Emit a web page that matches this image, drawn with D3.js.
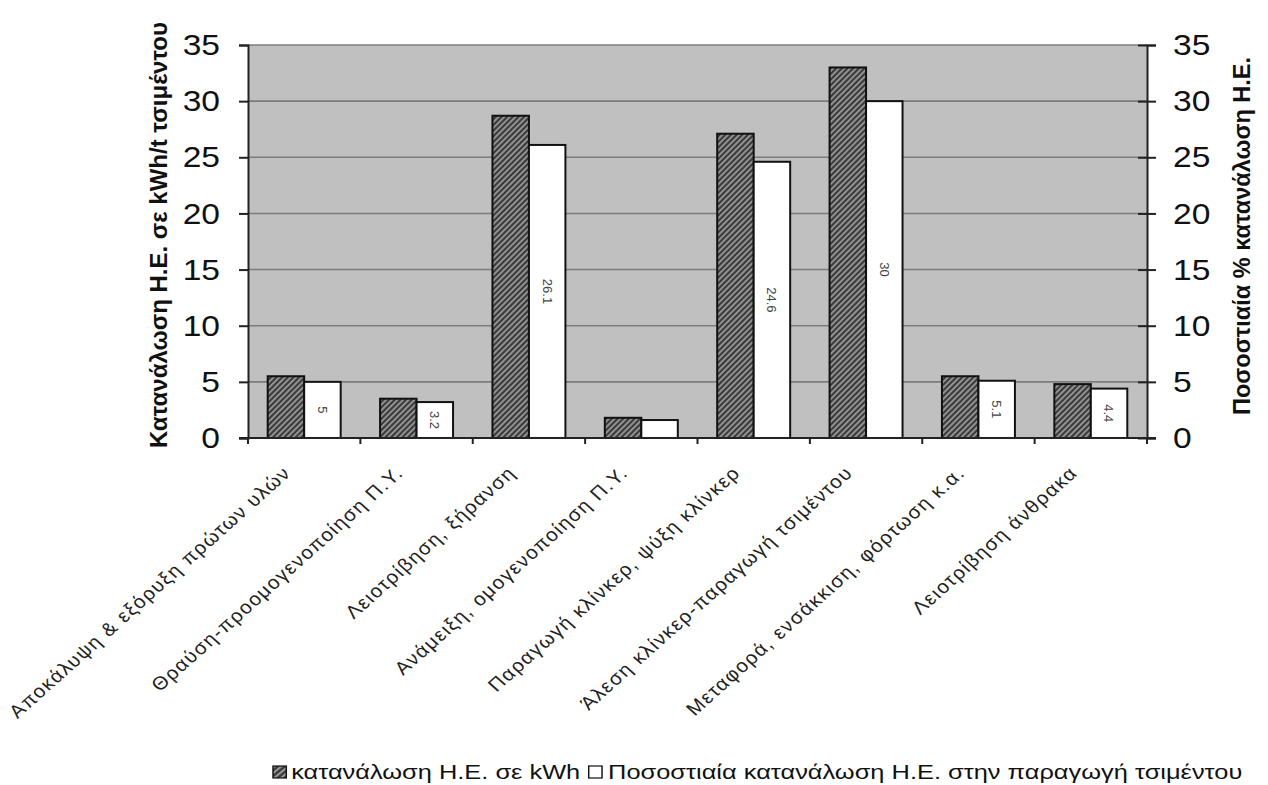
<!DOCTYPE html>
<html>
<head>
<meta charset="utf-8">
<script src="https://cdn.jsdelivr.net/npm/d3@7/dist/d3.min.js"></script>
<style>
  html, body { margin: 0; padding: 0; background: #fff; }
  svg { display: block; font-family: "Liberation Sans", Arial, sans-serif; }
</style>
</head>
<body>
<svg id="chart" width="1268" height="785"></svg>
<script>
// Cement production stages
const categories = [
  "Αποκάλυψη & εξόρυξη πρώτων υλών",
  "Θραύση-προομογενοποίηση Π.Υ.",
  "Λειοτρίβηση, ξήρανση",
  "Ανάμειξη, ομογενοποίηση Π.Υ.",
  "Παραγωγή κλίνκερ, ψύξη κλίνκερ",
  "Άλεση κλίνκερ-παραγωγή τσιμέντου",
  "Μεταφορά, ενσάκκιση, φόρτωση κ.α.",
  "Λειοτρίβηση άνθρακα"
];
// Electricity use, kWh per tonne of cement
const consumptionKWh = [5.5, 3.5, 28.7, 1.8, 27.1, 33.0, 5.5, 4.8];
// Share of total electricity use, %
const sharePercent = [5, 3.2, 26.1, 1.6, 24.6, 30, 5.1, 4.4];
// Values printed inside the share bars (null = no label)
const shareLabels = ["5", "3.2", "26.1", null, "24.6", "30", "5.1", "4.4"];
const seriesNames = ["κατανάλωση Η.Ε. σε kWh", "Ποσοστιαία κατανάλωση Η.Ε. στην παραγωγή τσιμέντου"];
const yTicks = [0, 5, 10, 15, 20, 25, 30, 35];
const leftTitle = "Κατανάλωση Η.Ε. σε kWh/t τσιμέντου";
const rightTitle = "Ποσοστιαία % κατανάλωση Η.Ε.";

const svg = d3.select("#chart");
const plot = { left: 248, right: 1147, top: 45, bottom: 438 };
const stretch = 1.12; // wide glyph proportions used for the printed text

const x = d3.scaleBand().domain(categories).range([plot.left, plot.right]).padding(0);
const xs = d3.scaleBand().domain([0, 1]).range([0, x.bandwidth()]).paddingOuter(0.54).paddingInner(0);
const yL = d3.scaleLinear().domain([0, 35]).range([plot.bottom, plot.top]);
const yR = d3.scaleLinear().domain([0, 35]).range([plot.bottom, plot.top]);

// diagonal hatch for the kWh series
const defs = svg.append("defs");
const pat = defs.append("pattern")
  .attr("id", "hatch").attr("patternUnits", "userSpaceOnUse")
  .attr("width", 4).attr("height", 4)
  .attr("patternTransform", "rotate(45)");
pat.append("rect").attr("width", 4).attr("height", 4).attr("fill", "#3a3a3a");
pat.append("rect").attr("x", 0).attr("width", 1.8).attr("height", 4).attr("fill", "#9a9a9a");

// plot background
svg.append("rect")
  .attr("x", plot.left).attr("y", plot.top)
  .attr("width", plot.right - plot.left).attr("height", plot.bottom - plot.top)
  .attr("fill", "#c0c0c0");

// gridlines
svg.append("g").selectAll("line").data(yTicks.filter(d => d > 0)).join("line")
  .attr("x1", plot.left).attr("x2", plot.right)
  .attr("y1", d => yL(d)).attr("y2", d => yL(d))
  .attr("stroke", "#7c7c7c").attr("stroke-width", 1.6);

// bars
const groups = svg.append("g").selectAll("g").data(categories).join("g")
  .attr("transform", d => `translate(${x(d)},0)`);

groups.append("rect")
  .attr("x", xs(0)).attr("width", xs.bandwidth())
  .attr("y", (d, i) => yL(consumptionKWh[i]))
  .attr("height", (d, i) => yL(0) - yL(consumptionKWh[i]))
  .attr("fill", "url(#hatch)").attr("stroke", "#111").attr("stroke-width", 2);

groups.append("rect")
  .attr("x", xs(1)).attr("width", xs.bandwidth())
  .attr("y", (d, i) => yR(sharePercent[i]))
  .attr("height", (d, i) => yR(0) - yR(sharePercent[i]))
  .attr("fill", "#fff").attr("stroke", "#111").attr("stroke-width", 2);

groups.filter((d, i) => shareLabels[i] !== null).append("text")
  .attr("transform", d => {
    const i = categories.indexOf(d);
    const cx = xs(1) + xs.bandwidth() / 2;
    const cy = (yR(sharePercent[i]) + yR(0)) / 2;
    return `translate(${cx},${cy}) rotate(90)`;
  })
  .attr("text-anchor", "middle").attr("dy", "0.35em")
  .attr("font-size", 13).attr("fill", "#444")
  .text(d => shareLabels[categories.indexOf(d)]);

// left axis
const leftAxis = svg.append("g")
  .attr("transform", `translate(${plot.left},0)`)
  .call(d3.axisLeft(yL).tickValues(yTicks).tickSize(9).tickPadding(0));
leftAxis.selectAll("text")
  .attr("x", null)
  .attr("transform", `translate(-28,0) scale(${stretch},1)`)
  .attr("font-size", 30).attr("fill", "#111")
  .attr("font-family", "Liberation Sans, Arial, sans-serif");
leftAxis.selectAll("line, path").attr("stroke", "#222").attr("stroke-width", 2);

// right axis (ticks cross the axis line)
const rightAxis = svg.append("g")
  .attr("transform", `translate(${plot.right},0)`)
  .call(d3.axisRight(yR).tickValues(yTicks).tickSize(9).tickPadding(0));
rightAxis.selectAll(".tick line").attr("x1", -9);
rightAxis.selectAll("text")
  .attr("x", null)
  .attr("transform", `translate(26,0) scale(${stretch},1)`)
  .attr("font-size", 30).attr("fill", "#111")
  .attr("font-family", "Liberation Sans, Arial, sans-serif");
rightAxis.selectAll("line, path").attr("stroke", "#222").attr("stroke-width", 2);

// bottom axis with ticks at category boundaries
const boundaries = categories.map(c => x(c)).concat([plot.right]);
const bottom = svg.append("g");
bottom.append("line")
  .attr("x1", plot.left - 9).attr("x2", plot.right + 9)
  .attr("y1", plot.bottom).attr("y2", plot.bottom)
  .attr("stroke", "#222").attr("stroke-width", 2);
bottom.selectAll("line.tk").data(boundaries).join("line").attr("class", "tk")
  .attr("x1", d => d).attr("x2", d => d)
  .attr("y1", plot.bottom).attr("y2", plot.bottom + 6)
  .attr("stroke", "#222").attr("stroke-width", 2);

// category labels
svg.append("g").selectAll("text").data(categories).join("text")
  .attr("transform", d => `translate(${x(d) + x.bandwidth() / 2 - 12},${plot.bottom + 36}) scale(${stretch},1) rotate(-45)`)
  .attr("text-anchor", "end")
  .attr("font-size", 18.5).attr("letter-spacing", 1.3).attr("fill", "#222")
  .text(d => d);

// axis titles
svg.append("text")
  .attr("transform", `translate(167,235) rotate(-90)`)
  .attr("text-anchor", "middle").attr("font-weight", "bold")
  .attr("font-size", 24).attr("fill", "#111")
  .text(leftTitle);
svg.append("text")
  .attr("transform", `translate(1250,236) rotate(-90)`)
  .attr("text-anchor", "middle").attr("font-weight", "bold")
  .attr("font-size", 23.5).attr("fill", "#111")
  .text(rightTitle);

// legend
const legend = svg.append("g").attr("transform", `translate(273,772) scale(1.21,1)`);
legend.append("rect").attr("x", 0).attr("y", -6).attr("width", 11).attr("height", 12)
  .attr("fill", "url(#hatch)").attr("stroke", "#111").attr("stroke-width", 1.2);
const t1 = legend.append("text").attr("x", 15).attr("dy", "0.35em")
  .attr("font-size", 21).attr("fill", "#111").text(seriesNames[0]);
const w1 = t1.node().getComputedTextLength();
legend.append("rect").attr("x", 15 + w1 + 7).attr("y", -6).attr("width", 11).attr("height", 12)
  .attr("fill", "#fff").attr("stroke", "#111").attr("stroke-width", 1.2);
legend.append("text").attr("x", 15 + w1 + 23).attr("dy", "0.35em")
  .attr("font-size", 21).attr("fill", "#111").text(seriesNames[1]);
</script>
</body>
</html>
